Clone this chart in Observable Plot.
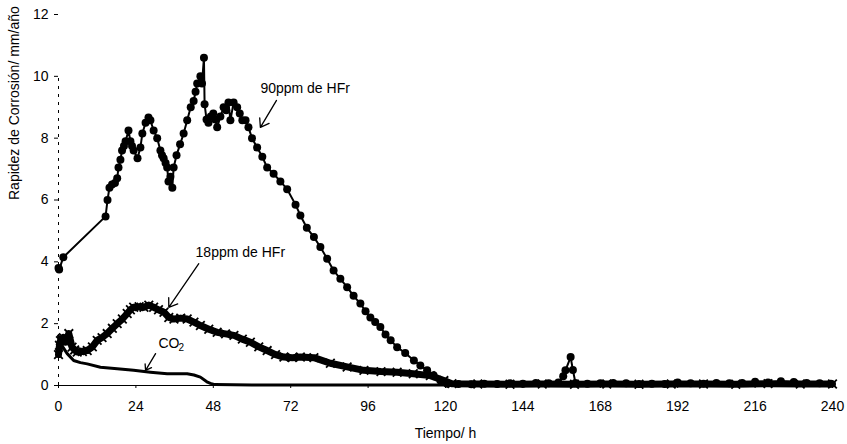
<!DOCTYPE html>
<html>
<head>
<meta charset="utf-8">
<script src="https://cdn.jsdelivr.net/npm/d3@7"></script>
<script src="https://cdn.jsdelivr.net/npm/@observablehq/plot@0.6"></script>
<style>
  html, body { margin: 0; padding: 0; background: #fff; }
  svg { display: block; }
</style>
</head>
<body>
<div id="chart"></div>
<script>
// ---- Data ----
const xTicks = [0, 24, 48, 72, 96, 120, 144, 168, 192, 216, 240];
const yTicks = [0, 2, 4, 6, 8, 10, 12];
const xLabel = "Tiempo/ h";
const yLabel = "Rapidez de Corrosión/ mm/año";

// 90 ppm de HFr (circles)
const hours90 = [0, 0.2, 1.5, 14.6, 15.2, 15.8, 16.6, 17.5, 18.2, 18.6, 19.2, 19.7, 20.3, 20.8, 21.7, 22.3, 22.8, 23.3, 24.5, 25.4, 26, 27, 27.9, 28.5, 29.5, 30.6, 31.6, 32.1, 32.6, 33.2, 33.7, 34.1, 34.7, 35.3, 35.7, 36.6, 37.7, 38.8, 39.9, 41, 41.9, 42.5, 43, 44, 44.5, 45.1, 45.3, 45.9, 46.5, 47.2, 48, 48.6, 49.2, 50.2, 51.2, 52, 52.7, 53.3, 54.3, 55.4, 56.2, 57, 58, 58.9, 60, 61.6, 63.2, 64.7, 66.7, 68.8, 70.9, 73.5, 75, 77, 79.2, 81.2, 83.3, 85.3, 87.4, 89.5, 91.5, 93.6, 95.2, 96.7, 98.2, 99.8, 101.4, 103, 105, 107.5, 110.2, 112.2, 114.3, 116.3, 118.4, 120.5, 124, 128, 132, 136, 140, 144, 148, 152, 155, 156.5, 157.2, 158.8, 159.5, 160.3, 164, 168, 172, 176, 180, 184, 188, 192, 196, 200, 204, 208, 212, 216, 220, 224, 228, 232, 236, 239.5];
const rate90 = [3.8, 3.75, 4.15, 5.47, 6.0, 6.4, 6.5, 6.55, 6.7, 7.05, 7.3, 7.6, 7.75, 7.9, 8.25, 7.9, 7.75, 7.6, 7.35, 7.7, 8.15, 8.5, 8.67, 8.58, 8.25, 8.0, 7.6, 7.45, 7.35, 7.2, 7.05, 6.6, 6.75, 6.4, 7.05, 7.45, 7.8, 8.15, 8.58, 9.0, 9.2, 9.5, 9.77, 10.0, 9.77, 10.6, 9.1, 8.6, 8.5, 8.7, 8.8, 8.6, 8.35, 8.7, 9.0, 8.9, 9.15, 8.58, 9.15, 9.0, 8.8, 8.58, 8.58, 8.35, 8.0, 7.7, 7.4, 7.05, 6.85, 6.6, 6.35, 5.85, 5.5, 5.1, 4.8, 4.48, 4.1, 3.72, 3.45, 3.18, 2.9, 2.65, 2.4, 2.2, 2.05, 1.89, 1.65, 1.46, 1.24, 1.05, 0.81, 0.65, 0.49, 0.33, 0.16, 0.06, 0.05, 0.04, 0.06, 0.05, 0.07, 0.06, 0.08, 0.07, 0.1, 0.3, 0.49, 0.92, 0.5, 0.08, 0.06, 0.07, 0.08, 0.07, 0.05, 0.06, 0.05, 0.1, 0.07, 0.06, 0.08, 0.07, 0.08, 0.12, 0.1, 0.14, 0.11, 0.08, 0.07, 0.06];

// 18 ppm de HFr (crosses)
const hours18 = [0, 0.3, 0.6, 1.5, 2.2, 3.2, 4.2, 5, 5.8, 7.4, 8.9, 10.5, 12, 13.5, 15.1, 16.7, 18.2, 19.8, 21.3, 22.3, 23.3, 25, 26.5, 28, 29.5, 31, 32.7, 34.2, 35.8, 37.9, 39.9, 42, 44, 46.6, 49.2, 51.8, 54.4, 57, 59.5, 62.1, 64.7, 67.3, 69.9, 72.5, 75, 79.2, 84.3, 89.5, 94.7, 100, 105, 110, 115.3, 119.5, 122, 130, 140, 150, 160, 170, 180, 190, 200, 210, 220, 230, 240];
const rate18 = [1.0, 1.3, 1.45, 1.55, 1.4, 1.68, 1.24, 1.15, 1.08, 1.1, 1.13, 1.25, 1.46, 1.55, 1.68, 1.85, 2.0, 2.15, 2.33, 2.45, 2.53, 2.55, 2.53, 2.6, 2.53, 2.45, 2.37, 2.2, 2.15, 2.18, 2.15, 2.05, 1.94, 1.82, 1.72, 1.67, 1.62, 1.5, 1.4, 1.25, 1.13, 1.0, 0.92, 0.9, 0.92, 0.9, 0.72, 0.6, 0.49, 0.45, 0.43, 0.38, 0.32, 0.16, 0.06, 0.05, 0.04, 0.05, 0.04, 0.05, 0.04, 0.05, 0.05, 0.04, 0.06, 0.05, 0.05];

// CO2 (line)
const hoursCO2 = [0, 1, 2.7, 4.7, 6.8, 8.9, 13, 18.2, 23.3, 28.5, 33.7, 39.9, 42, 44, 46, 47.1, 48.5, 60, 90, 120, 150, 180, 210, 240];
const rateCO2 = [1.6, 1.3, 1.03, 0.81, 0.74, 0.7, 0.59, 0.54, 0.49, 0.43, 0.38, 0.38, 0.34, 0.27, 0.12, 0.07, 0.03, 0.02, 0.02, 0.02, 0.02, 0.02, 0.02, 0.02];

// Annotations
const noteText = ["90ppm de HFr", "18ppm de HFr", "CO"];
const noteX = [62.6, 42.5, 31];
const noteY = [9.6, 4.3, 1.36];
const subText = ["2"];
const subX = [37.2];
const subY = [1.22];
const arrowX1 = [67.6, 43.5, 30.1];
const arrowY1 = [9.22, 3.94, 1.03];
const arrowX2 = [62.6, 34.2, 27.0];
const arrowY2 = [8.35, 2.53, 0.49];

// ---- Build tables ----
const s90 = hours90.map((h, i) => ({h, v: rate90[i]}));
const s18 = hours18.map((h, i) => ({h, v: rate18[i]}));
const sCO2 = hoursCO2.map((h, i) => ({h, v: rateCO2[i]}));
const notes = noteText.map((t, i) => ({t, x: noteX[i], y: noteY[i]}));
const subs = subText.map((t, i) => ({t, x: subX[i], y: subY[i]}));
const arrows = arrowX1.map((x1, i) => ({x1, y1: arrowY1[i], x2: arrowX2[i], y2: arrowY2[i]}));

const chart = Plot.plot({
  width: 847,
  height: 444,
  marginLeft: 58,
  marginRight: 15,
  marginTop: 14,
  marginBottom: 59,
  style: {fontFamily: "'Liberation Sans', Arial, sans-serif", fontSize: "14px", background: "#fff", color: "#000"},
  x: {domain: [0, 240], ticks: xTicks, tickSize: 3, tickPadding: 13, label: null},
  y: {domain: [0, 12], ticks: yTicks, tickSize: 4, tickPadding: 6, label: null},
  marks: [
    Plot.ruleY([0], {stroke: "#000", strokeWidth: 1}),
    Plot.ruleX([0], {y1: 0, y2: 10, stroke: "#000", strokeWidth: 1, strokeDasharray: "3,5"}),
    Plot.line(sCO2, {x: "h", y: "v", stroke: "#000", strokeWidth: 3}),
    Plot.line(s18, {x: "h", y: "v", stroke: "#000", strokeWidth: 7}),
    Plot.dot(s18, {x: "h", y: "v", symbol: "times", r: 4, stroke: "#000", strokeWidth: 1.8}),
    Plot.line(s90, {x: "h", y: "v", stroke: "#000", strokeWidth: 2}),
    Plot.dot(s90, {x: "h", y: "v", r: 4, fill: "#000", stroke: "none"}),
    Plot.arrow(arrows, {x1: "x1", y1: "y1", x2: "x2", y2: "y2", stroke: "#000", strokeWidth: 1.3, headLength: 11, headAngle: 70}),
    Plot.text(notes, {x: "x", y: "y", text: "t", textAnchor: "start", fontSize: 14, fill: "#000"}),
    Plot.text(subs, {x: "x", y: "y", text: "t", textAnchor: "start", fontSize: 10, fill: "#000"}),
    Plot.text([xLabel], {frameAnchor: "bottom", dy: 52, fontSize: 14, fill: "#000"}),
    Plot.text([yLabel], {frameAnchor: "left", dx: -44, rotate: -90, fontSize: 14, fill: "#000"})
  ]
});
document.getElementById("chart").appendChild(chart);
</script>
</body>
</html>
